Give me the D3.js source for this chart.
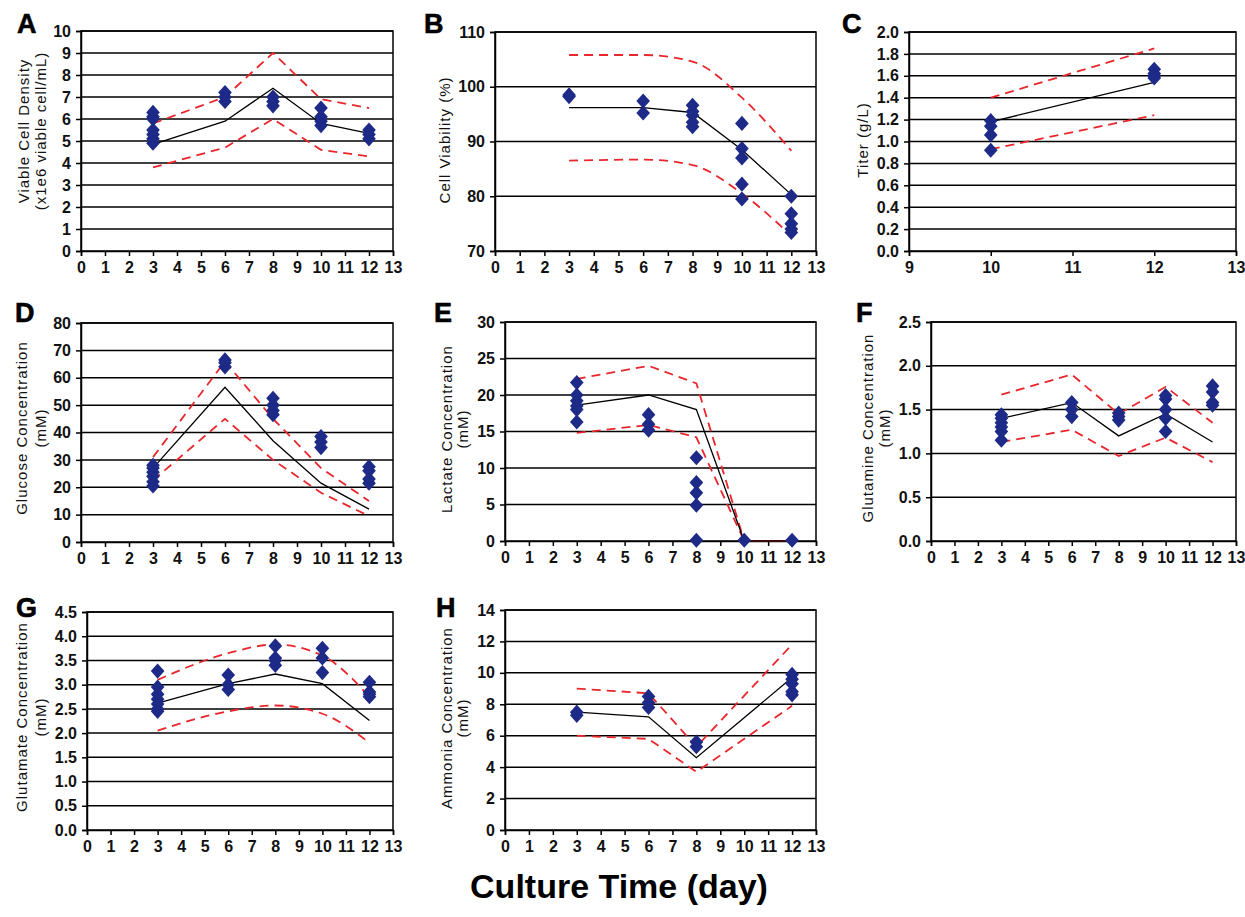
<!DOCTYPE html>
<html>
<head>
<meta charset="utf-8">
<script src="https://cdn.jsdelivr.net/npm/d3@7"></script>
<style>
  html, body { margin: 0; padding: 0; background: #fff; }
  svg { display: block; font-family: "Liberation Sans", Arial, sans-serif; }
</style>
</head>
<body>
<svg id="fig" width="1245" height="917"></svg>
<script>
// Sampling days
const days = [3, 6, 8, 10, 12];
const daysTiter = [10, 12];
const daysAmmonia = [3, 6, 8, 12];

// A: viable cell density (x1e6 cells/mL)
const vcdMean  = [4.85, 5.9, 7.4, 5.8, 5.35];
const vcdUpper = [5.8, 7.0, 9.0, 6.9, 6.5];
const vcdLower = [3.8, 4.7, 6.0, 4.6, 4.3];
const vcdObs = [[4.9, 5.1, 5.3, 5.5, 6.0, 6.1, 6.3], [6.8, 7.0, 7.2], [6.6, 6.8, 7.0], [5.7, 5.9, 6.1, 6.5], [5.1, 5.3, 5.5]];

// B: cell viability (%)
const viaMean  = [96.2, 96.2, 95.3, 88.5, 80.3];
const viaUpper = [105.8, 105.8, 104.6, 98.0, 88.3];
const viaLower = [86.5, 86.7, 85.7, 80.5, 72.8];
const viaObs = [[98.2, 98.5], [97.4, 95.2], [96.6, 95.5, 94.8, 93.5, 92.7], [93.3, 88.7, 87.0, 82.2, 79.5], [80.0, 76.8, 75.0, 74.0, 73.4]];

// C: titer (g/L)
const titerMean  = [1.18, 1.54];
const titerUpper = [1.40, 1.85];
const titerLower = [0.93, 1.24];
const titerObs = [[1.19, 1.14, 1.06, 0.92], [1.66, 1.62, 1.60, 1.58]];

// D: glucose (mM)
const gluMean  = [27, 56.5, 37, 21.5, 12];
const gluUpper = [31, 66, 45, 27, 15];
const gluLower = [22.5, 45, 30, 18, 9.5];
const gluObs = [[20.5, 22, 24, 25.5, 27, 28], [64, 65.5, 66.5], [46.5, 48, 50, 52.5], [34.5, 36.5, 38.5], [21.5, 23, 26, 27.5]];

// E: lactate (mM)
const lacMean  = [18.6, 20.0, 18.0, 0, 0];
const lacUpper = [22.2, 24.0, 21.6, 0, 0];
const lacLower = [14.8, 15.9, 14.2, 0, 0];
const lacObs = [[21.7, 20.0, 19.2, 18.5, 18.0, 16.3], [17.3, 16.0, 15.2], [11.4, 8.0, 6.6, 4.9, 0.1], [0.1], [0.1]];

// F: glutamine (mM)
const glnMean  = [1.40, 1.58, 1.20, 1.45, 1.13];
const glnUpper = [1.67, 1.90, 1.45, 1.76, 1.35];
const glnLower = [1.13, 1.27, 0.97, 1.18, 0.90];
const glnObs = [[1.15, 1.25, 1.30, 1.35, 1.40, 1.44], [1.42, 1.50, 1.58], [1.38, 1.42, 1.46], [1.25, 1.40, 1.50, 1.62, 1.66], [1.55, 1.58, 1.70, 1.77]];

// G: glutamate (mM)
const gltMean  = [2.62, 3.02, 3.22, 3.02, 2.26];
const gltUpper = [3.1, 3.65, 3.83, 3.6, 2.75];
const gltLower = [2.05, 2.45, 2.57, 2.4, 1.8];
const gltObs = [[3.28, 2.95, 2.8, 2.7, 2.6, 2.5, 2.45], [3.2, 3.0, 2.9], [3.8, 3.55, 3.5, 3.4], [3.75, 3.55, 3.25], [3.05, 2.85, 2.8, 2.75]];

// H: ammonia (mM)
const nh4Mean  = [7.5, 7.2, 4.6, 9.7];
const nh4Upper = [9.0, 8.7, 5.3, 11.8];
const nh4Lower = [6.0, 5.8, 3.7, 7.9];
const nh4Obs = [[7.3, 7.5], [7.8, 8.1, 8.5], [5.3, 5.6], [8.6, 8.8, 9.3, 9.6, 9.9]];

// Axis tick labels
const dayTicks = d3.range(0, 14);
const titerDayTicks = [9, 10, 11, 12, 13];

const panels = [
  { tag: "A", box: [81, 393, 31, 251], x: [0, 13], xt: dayTicks, y: [0, 10], yt: d3.range(0, 11, 1), fmt: d3.format("d"),
    title: ["Viable Cell Density", "(x1e6 viable cell/mL)"], tx: [23, 40], ty: 131, lx: 17, ly: 33,
    days: days, mean: vcdMean, up: vcdUpper, lo: vcdLower, obs: vcdObs, smooth: false },
  { tag: "B", box: [495, 816, 32, 251], x: [0, 13], xt: dayTicks, y: [70, 110], yt: [70, 80, 90, 100, 110], fmt: d3.format("d"),
    title: ["Cell Viability (%)"], tx: [444], ty: 140, lx: 424, ly: 33,
    days: days, mean: viaMean, up: viaUpper, lo: viaLower, obs: viaObs, smooth: true },
  { tag: "C", box: [909, 1236, 32, 251], x: [9, 13], xt: titerDayTicks, y: [0, 2], yt: d3.range(0, 2.01, 0.2), fmt: d3.format(".1f"),
    title: ["Titer (g/L)"], tx: [862], ty: 140, lx: 842, ly: 33,
    days: daysTiter, mean: titerMean, up: titerUpper, lo: titerLower, obs: titerObs, smooth: false },
  { tag: "D", box: [81, 393, 323, 542], x: [0, 13], xt: dayTicks, y: [0, 80], yt: d3.range(0, 81, 10), fmt: d3.format("d"),
    title: ["Glucose Concentration", "(mM)"], tx: [21, 40], ty: 428, lx: 15, ly: 322,
    days: days, mean: gluMean, up: gluUpper, lo: gluLower, obs: gluObs, smooth: false },
  { tag: "E", box: [505, 816, 322, 541], x: [0, 13], xt: dayTicks, y: [0, 30], yt: d3.range(0, 31, 5), fmt: d3.format("d"),
    title: ["Lactate Concentration", "(mM)"], tx: [446, 462], ty: 429, lx: 434, ly: 322,
    days: days, mean: lacMean, up: lacUpper, lo: lacLower, obs: lacObs, smooth: false },
  { tag: "F", box: [931, 1236, 322, 541], x: [0, 13], xt: dayTicks, y: [0, 2.5], yt: d3.range(0, 2.51, 0.5), fmt: d3.format(".1f"),
    title: ["Glutamine Concentration", "(mM)"], tx: [867, 884], ty: 428, lx: 856, ly: 322,
    days: days, mean: glnMean, up: glnUpper, lo: glnLower, obs: glnObs, smooth: false },
  { tag: "G", box: [87, 393, 612, 830], x: [0, 13], xt: dayTicks, y: [0, 4.5], yt: d3.range(0, 4.51, 0.5), fmt: d3.format(".1f"),
    title: ["Glutamate Concentration", "(mM)"], tx: [21, 40], ty: 717, lx: 16, ly: 617,
    days: days, mean: gltMean, up: gltUpper, lo: gltLower, obs: gltObs, smooth: true },
  { tag: "H", box: [505, 816, 610, 830], x: [0, 13], xt: dayTicks, y: [0, 14], yt: d3.range(0, 15, 2), fmt: d3.format("d"),
    title: ["Ammonia Concentration", "(mM)"], tx: [446, 462], ty: 718, lx: 436, ly: 617,
    days: daysAmmonia, mean: nh4Mean, up: nh4Upper, lo: nh4Lower, obs: nh4Obs, smooth: false }
];

const svg = d3.select("#fig");
const RED = "#e8262b";
const NAVY = "#1d2a87";

// Diamond marker, slightly taller than wide
const diamond = {
  draw(ctx, size) {
    const h = Math.sqrt(size) * 0.62, w = h * 0.9;
    ctx.moveTo(0, -h); ctx.lineTo(w, 0); ctx.lineTo(0, h); ctx.lineTo(-w, 0); ctx.closePath();
  }
};

panels.forEach(p => {
  const [x0, x1, y0, y1] = p.box;
  const x = d3.scaleLinear().domain(p.x).range([x0, x1]);
  const y = d3.scaleLinear().domain(p.y).range([y1, y0]);
  const g = svg.append("g");

  // horizontal gridlines
  g.append("g").selectAll("line").data(p.yt.slice(1)).join("line")
    .attr("x1", x0).attr("x2", x1)
    .attr("y1", d => y(d)).attr("y2", d => y(d))
    .attr("stroke", "#000").attr("stroke-width", 1.5);

  // frame
  g.append("rect").attr("x", x0).attr("y", y0).attr("width", x1 - x0).attr("height", y1 - y0)
    .attr("fill", "none").attr("stroke", "#000").attr("stroke-width", 1.5);

  // axes
  const ax = g.append("g").attr("transform", `translate(0,${y1})`)
    .call(d3.axisBottom(x).tickValues(p.xt).tickFormat(d3.format("d")).tickSize(5).tickPadding(6));
  const ay = g.append("g").attr("transform", `translate(${x0},0)`)
    .call(d3.axisLeft(y).tickValues(p.yt).tickFormat(p.fmt).tickSize(5).tickPadding(5));
  [ax, ay].forEach(a => {
    a.attr("font-family", null).attr("font-size", null);
    a.select(".domain").attr("stroke", "#000").attr("stroke-width", 1.5);
    a.selectAll(".tick line").attr("stroke", "#000").attr("stroke-width", 1.5);
    a.selectAll(".tick text").attr("fill", "#111").attr("font-size", 16).attr("font-weight", "bold");
  });

  // prediction band (dashed red) and mean (black)
  const curve = p.smooth ? d3.curveMonotoneX : d3.curveLinear;
  const line = d3.line().x((d, i) => x(p.days[i])).y(d => y(d)).curve(curve);
  [p.up, p.lo].forEach(arr => {
    g.append("path").attr("d", line(arr)).attr("fill", "none")
      .attr("stroke", RED).attr("stroke-width", 1.8).attr("stroke-dasharray", "9,6");
  });
  g.append("path").attr("d", d3.line().x((d, i) => x(p.days[i])).y(d => y(d))(p.mean))
    .attr("fill", "none").attr("stroke", "#000").attr("stroke-width", 1.3);

  // observed replicates
  const pts = p.obs.flatMap((vals, i) => vals.map(v => ({ d: p.days[i], v })));
  g.append("g").selectAll("path").data(pts).join("path")
    .attr("transform", d => `translate(${x(d.d)},${y(d.v)})`)
    .attr("d", d3.symbol(diamond, 150))
    .attr("fill", NAVY);

  // y-axis title
  p.title.forEach((t, i) => {
    g.append("text").attr("transform", `translate(${p.tx[i]},${p.ty}) rotate(-90)`)
      .attr("text-anchor", "middle").attr("dominant-baseline", "central")
      .attr("font-size", 15).attr("letter-spacing", 1).attr("fill", "#111").text(t);
  });

  // panel letter
  g.append("text").attr("x", p.lx).attr("y", p.ly)
    .attr("font-size", 27).attr("font-weight", "bold").attr("fill", "#000")
    .attr("stroke", "#000").attr("stroke-width", 0.6).text(p.tag);
});

// shared x-axis title
svg.append("text").attr("x", 619).attr("y", 898).attr("text-anchor", "middle")
  .attr("font-size", 34).attr("font-weight", "bold")
  .attr("fill", "#000").text("Culture Time (day)");
</script>
</body>
</html>
